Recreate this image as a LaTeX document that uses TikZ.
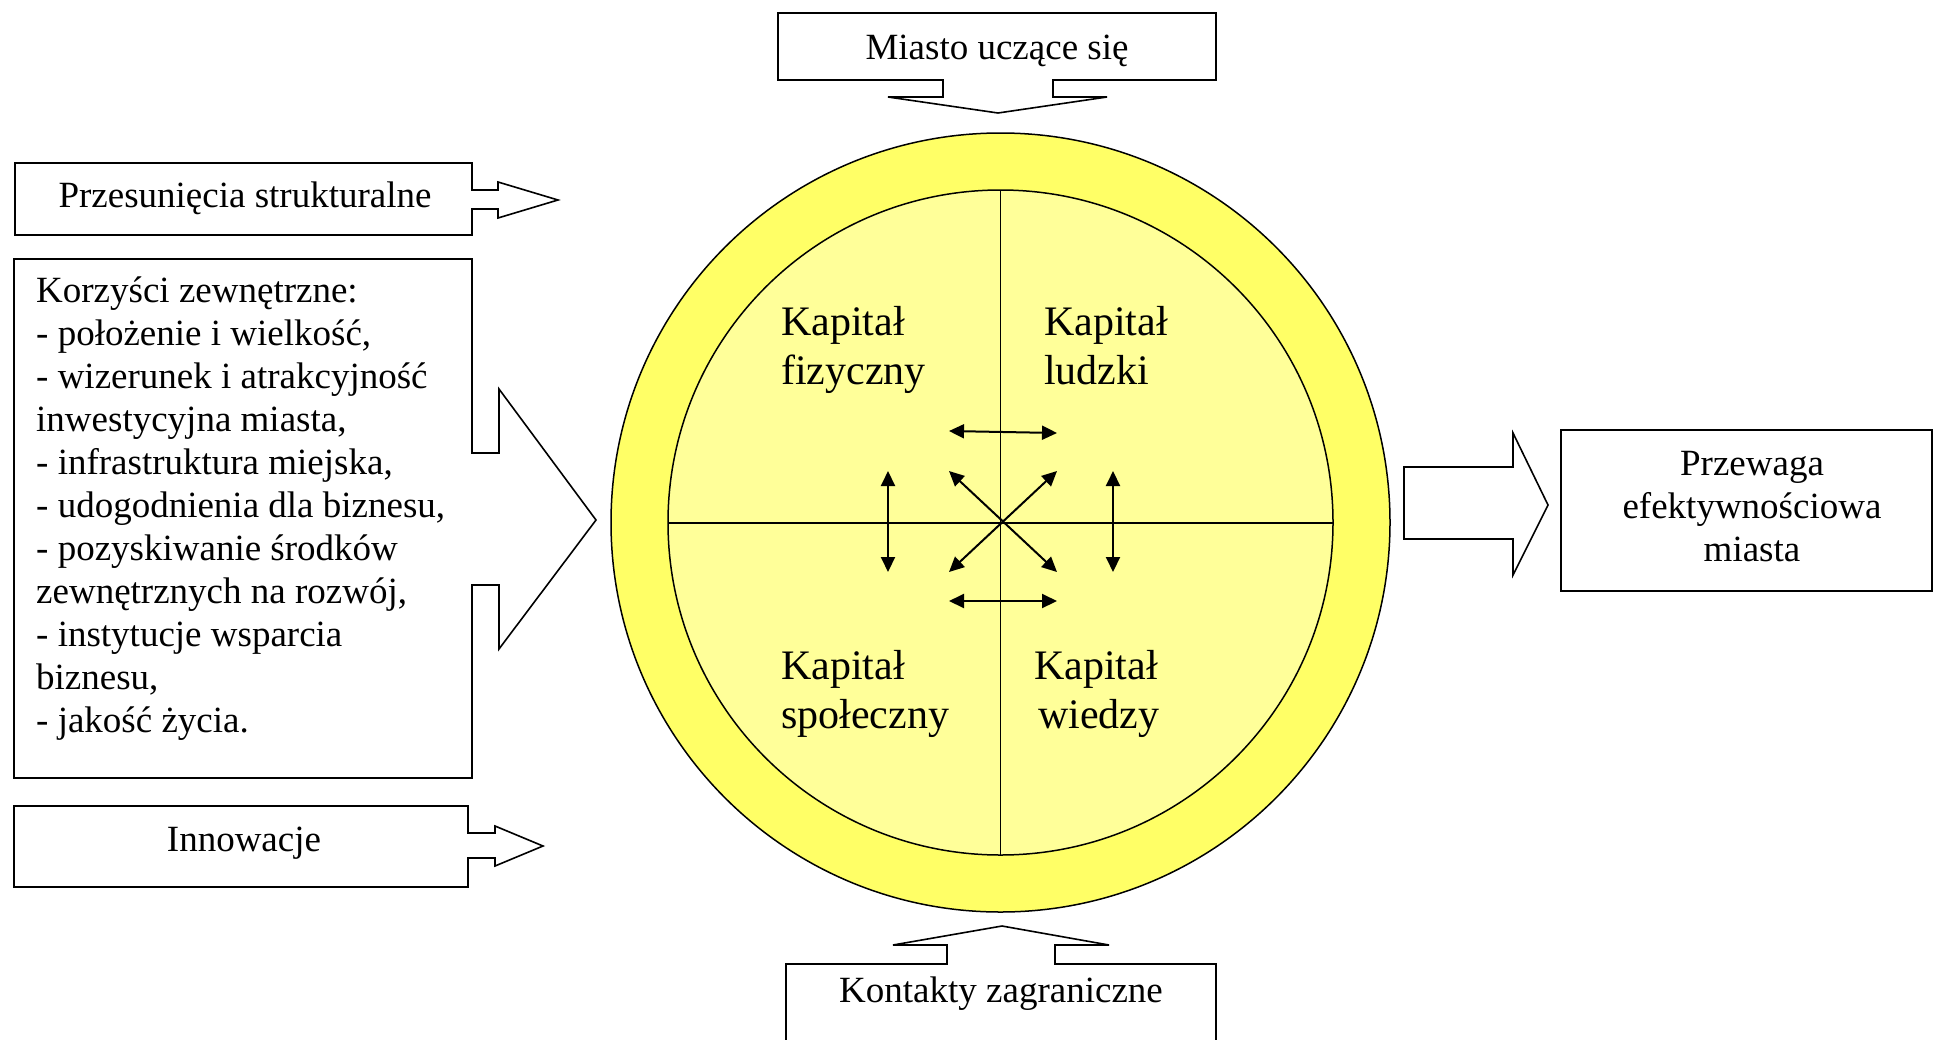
\documentclass[tikz,border=0pt]{standalone}
\usepackage{fontspec}
\setmainfont{Liberation Serif}
\usetikzlibrary{arrows.meta}
\definecolor{ringyellow}{RGB}{255,255,102}
\definecolor{innyellow}{RGB}{255,255,153}
\tikzset{
  outl/.style={draw=black, line width=1.6pt, fill=white, line join=miter},
  txt/.style={inner sep=0pt, font=\fontsize{37}{43}\selectfont},
  kap/.style={inner sep=0pt, align=left, anchor=base west, font=\fontsize{42}{49}\selectfont},
  dbl/.style={line width=2pt, {Triangle[length=15pt,width=14pt]}-{Triangle[length=15pt,width=14pt]}}
}
\begin{document}
\begin{tikzpicture}[x=1pt,y=-1pt]
\fill[white] (0,0) rectangle (1934,1039);
\useasboundingbox (0,0) rectangle (1934,1039);

% central circle
\coordinate (C) at (1000.5,522.5);
\fill[ringyellow, draw=black, line width=1.5pt] (C) circle[radius=389.5pt];
\fill[innyellow, draw=black, line width=1.5pt] (C) circle[radius=332.5pt];
\coordinate (vt) at (1000.5,190);
\coordinate (vb) at (1000.5,855);
\coordinate (hl) at (668,523);
\coordinate (hr) at (1333,523);
\draw[line width=1.8pt] (vt) -- (vb);
\draw[line width=1.8pt] (hl) -- (hr);

% quadrant labels (base = baseline of last line)
\node[kap] (kf) at (781,384) {Kapitał\\fizyczny};
\node[kap] (kl) at (1044,384) {Kapitał\\ludzki};
\node[kap] (ks) at (781,728) {Kapitał\\społeczny};
\node[kap] (kw) at (1034,728) {Kapitał\\\hspace*{4pt}wiedzy};

% inner double arrows
\coordinate (t1) at (949,431);
\coordinate (t2) at (1057,433);
\coordinate (b1) at (949,601);
\coordinate (b2) at (1057,601);
\coordinate (l1) at (888,471);
\coordinate (l2) at (888,572);
\coordinate (r1) at (1113,471);
\coordinate (r2) at (1113,572);
\coordinate (nw) at (949,471);
\coordinate (ne) at (1057,471);
\coordinate (sw) at (949,572);
\coordinate (se) at (1057,572);
\draw[dbl] (t1) -- (t2);
\draw[dbl] (b1) -- (b2);
\draw[dbl] (l1) -- (l2);
\draw[dbl] (r1) -- (r2);
\draw[dbl] (nw) -- (se);
\draw[dbl] (sw) -- (ne);

% top callout: Miasto uczace sie
\draw[outl] (778,13) -- (1216,13) -- (1216,80) -- (1053,80) -- (1053,97) -- (1107,97)
  -- (998,113) -- (888,97) -- (943,97) -- (943,80) -- (778,80) -- cycle;
\node[txt, anchor=base] (miasto) at (997,59) {Miasto uczące się};

% Przesuniecia strukturalne
\draw[outl] (15,163) -- (472,163) -- (472,190) -- (498,190) -- (498,182) -- (558,200)
  -- (498,218) -- (498,209) -- (472,209) -- (472,235) -- (15,235) -- cycle;
\node[txt, anchor=base] (przes) at (245,207) {Przesunięcia strukturalne};

% Korzysci zewnetrzne
\draw[outl] (14,259) -- (472,259) -- (472,453) -- (499,453) -- (499,389) -- (596,520)
  -- (499,649) -- (499,585) -- (472,585) -- (472,778) -- (14,778) -- cycle;
\node[txt, align=left, anchor=base west] (korz) at (36,732)
  {Korzyści zewnętrzne:\\- położenie i wielkość,\\- wizerunek i atrakcyjność\\inwestycyjna miasta,\\- infrastruktura miejska,\\- udogodnienia dla biznesu,\\- pozyskiwanie środków\\zewnętrznych na rozwój,\\- instytucje wsparcia\\biznesu,\\- jakość życia.};

% Innowacje
\draw[outl] (14,806) -- (468,806) -- (468,833) -- (495,833) -- (495,826) -- (543,846)
  -- (495,866) -- (495,858) -- (468,858) -- (468,887) -- (14,887) -- cycle;
\node[txt, anchor=base] (innow) at (244,851) {Innowacje};

% Kontakty zagraniczne
\draw[outl] (786,1045) -- (786,964) -- (947,964) -- (947,945) -- (893,945) -- (1002,926)
  -- (1109,945) -- (1055,945) -- (1055,964) -- (1216,964) -- (1216,1045);
\node[txt, anchor=base] (kont) at (1001,1002) {Kontakty zagraniczne};

% right arrow and Przewaga box
\draw[outl] (1404,467) -- (1513,467) -- (1513,433) -- (1548,505) -- (1513,575)
  -- (1513,539) -- (1404,539) -- cycle;
\draw[outl] (1561,430) rectangle (1932,591);
\node[txt, align=center, anchor=base] (przew) at (1752,561)
  {Przewaga\\efektywnościowa\\miasta};
\end{tikzpicture}
\end{document}
